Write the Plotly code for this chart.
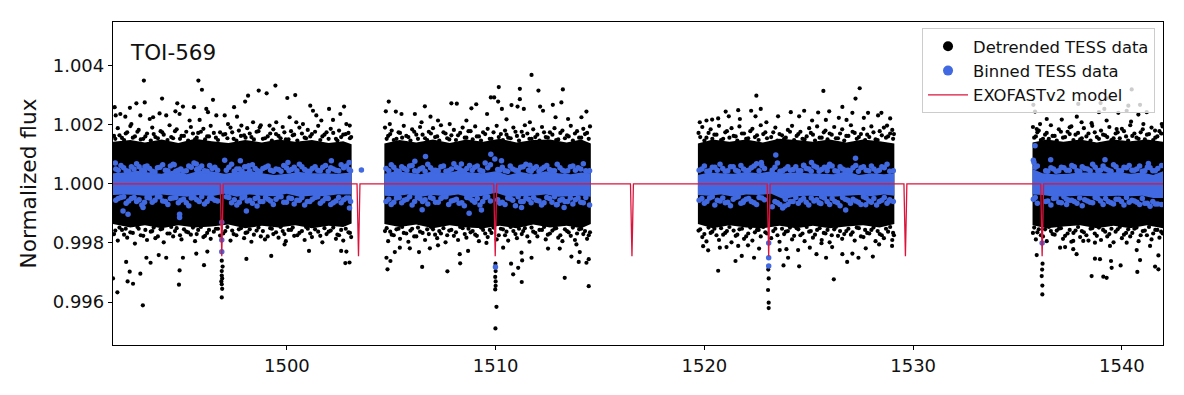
import plotly.graph_objects as go

# All values; flux is stored as parts-per-thousand offset from 1.
# The packed cores cannot be resolved into single points, so they are estimated envelopes,
# and the points around their edges are estimates of the density, not one-to-one readings.
seg1_t = [1491.67,1492.5,1493.2,1494.0,1494.8,1495.6,1496.4,1497.2,1498.0,1498.8,1499.6,1500.4,1501.2,1502.0,1502.7,1503.1]
seg1_hi = [1.42,1.48,1.4,1.5,1.38,1.52,1.44,1.38,1.48,1.4,1.5,1.42,1.48,1.38,1.44,1.34]
seg1_lo = [-1.36,-1.48,-1.4,-1.5,-1.4,-1.48,-1.44,-1.38,-1.5,-1.42,-1.48,-1.4,-1.5,-1.42,-1.46,-1.34]
seg2_t = [1504.67,1505.4,1506.2,1507.0,1507.8,1508.6,1509.4,1510.2,1511.0,1511.8,1512.6,1513.4,1514.1,1514.56]
seg2_hi = [1.36,1.48,1.4,1.5,1.38,1.5,1.42,1.52,1.4,1.48,1.5,1.4,1.5,1.36]
seg2_lo = [-1.36,-1.46,-1.38,-1.5,-1.4,-1.48,-1.5,-1.42,-1.5,-1.38,-1.48,-1.42,-1.5,-1.36]
seg3_t = [1519.69,1520.4,1521.2,1522.0,1522.8,1523.6,1524.4,1525.2,1526.0,1526.8,1527.6,1528.4,1529.1]
seg3_hi = [1.36,1.5,1.42,1.5,1.4,1.52,1.48,1.42,1.5,1.4,1.5,1.44,1.36]
seg3_lo = [-1.36,-1.5,-1.4,-1.48,-1.5,-1.42,-1.5,-1.42,-1.5,-1.44,-1.4,-1.48,-1.36]
seg4_t = [1535.72,1536.4,1537.2,1538.0,1538.8,1539.6,1540.4,1541.2,1541.97]
seg4_hi = [1.4,1.5,1.42,1.5,1.4,1.5,1.44,1.5,1.42]
seg4_lo = [-1.4,-1.5,-1.44,-1.4,-1.5,-1.42,-1.5,-1.4,-1.5]

blue1_t = [1491.67,1492.2,1492.8,1493.4,1494.0,1494.6,1495.2,1495.8,1496.4,1497.0,1497.6,1498.2,1498.8,1499.4,1500.0,1500.6,1501.2,1501.8,1502.4,1503.1]
blue1_hi = [0.36,0.38,0.44,0.38,0.34,0.46,0.32,0.44,0.42,0.34,0.4,0.44,0.36,0.3,0.34,0.4,0.36,0.36,0.34,0.38]
blue1_lo = [-0.38,-0.36,-0.38,-0.42,-0.36,-0.4,-0.44,-0.38,-0.42,-0.34,-0.44,-0.36,-0.4,-0.42,-0.34,-0.44,-0.4,-0.42,-0.36,-0.36]
blue2_t = [1504.67,1505.2,1505.8,1506.4,1507.0,1507.6,1508.2,1508.8,1509.4,1510.0,1510.6,1511.2,1511.8,1512.4,1513.0,1513.6,1514.1,1514.56]
blue2_hi = [0.34,0.42,0.38,0.32,0.42,0.36,0.44,0.38,0.36,0.42,0.3,0.4,0.32,0.42,0.36,0.32,0.38,0.36]
blue2_lo = [-0.4,-0.42,-0.36,-0.44,-0.38,-0.42,-0.36,-0.46,-0.4,-0.3,-0.44,-0.42,-0.4,-0.36,-0.44,-0.42,-0.4,-0.44]
blue3_t = [1519.69,1520.2,1520.8,1521.4,1522.0,1522.6,1523.2,1523.8,1524.4,1525.0,1525.6,1526.2,1526.8,1527.4,1528.0,1528.6,1529.1]
blue3_hi = [0.3,0.38,0.36,0.34,0.4,0.36,0.42,0.36,0.38,0.36,0.34,0.32,0.42,0.3,0.36,0.32,0.36]
blue3_lo = [-0.38,-0.4,-0.36,-0.44,-0.36,-0.38,-0.34,-0.52,-0.42,-0.4,-0.42,-0.44,-0.4,-0.38,-0.42,-0.36,-0.4]
blue4_t = [1535.72,1536.2,1536.8,1537.4,1538.0,1538.6,1539.2,1539.8,1540.4,1541.0,1541.5,1541.97]
blue4_hi = [0.5,0.36,0.32,0.34,0.38,0.38,0.36,0.4,0.34,0.38,0.3,0.42]
blue4_lo = [-0.36,-0.38,-0.44,-0.42,-0.4,-0.42,-0.42,-0.4,-0.42,-0.4,-0.48,-0.48]

black_t = [
 1493.15,1495.76,1495.93,1494.02,1496.46,1492.79,1493.19,1491.75,1492.48,1494.75,1495.02,1495.55,1496.14,1497.47,1498.0,1498.14,1498.65,1499.03,1499.45,1500.02,1500.4,1501.12,1502.02,1502.74,
 1491.80,1492.02,1492.26,1492.55,1492.98,1493.43,1493.59,1493.90,1494.22,1494.66,1494.86,1495.34,1495.82,1496.22,1496.62,1497.02,1497.18,1497.61,1497.82,1498.38,1498.70,1499.17,1499.49,1500.13,1500.45,1500.77,1501.25,1501.41,1501.65,1502.21,1502.56,1502.85,1503.01,
 1493.1,1491.88,1491.67,1492.37,1492.63,1492.47,1492.98,1494.83,1494.86,1492.3,1493.27,1493.47,1493.86,1494.22,1495.02,1495.66,1496.03,1496.19,1498.06,1499.25,1501.06,1502.8,1503.0,1502.85,1502.6,1499.89,
 1496.88,1496.92,1496.88,1496.88,1496.9,1496.86,1496.88,1496.9,1496.88,
 1504.88,1507.88,1508.14,1509.07,1506.61,1510.76,1511.05,1512.13,1512.74,1504.74,1505.22,1506.13,1506.88,1507.24,1508.84,1509.59,1510.3,1511.35,1512.27,1513.47,1514.35,1514.11,1511.64,1512.87,1510.52,1508.6,1507.8,1506.45,1505.49,1504.93,
 1511.72,1510.15,1511.16,1512.05,1513.22,1509.77,1509.93,1510.12,1511.16,1513.15,
 1509.99,1510.04,1514.46,1511.25,1513.31,1504.82,1506.48,1507.69,1508.3,1508.28,1510.84,1511.08,1510.74,1511.27,1511.72,1513.63,1513.98,1514.35,1514.46,1504.96,1504.77,1506.33,1506.85,1507.24,1508.68,1509.56,1510.36,1511.24,1512.51,1513.07,1513.87,1514.03,1505.41,1505.89,1505.17,
 1509.99,1510.0,1509.98,1510.0,1510.0,1509.98,
 1527.44,1525.70,1522.49,1527.24,1526.61,1521.02,1521.62,1522.24,1522.70,1524.14,1524.78,1525.45,1525.98,1527.09,1527.84,1528.48,1519.78,1520.10,1520.37,1520.66,1521.17,1521.7,1522.45,1522.97,1523.53,1524.54,1525.16,1525.82,1526.44,1526.81,1527.64,1528.32,1528.9,1528.75,
 1523.08,1523.08,1523.05,1520.66,1526.2,1521.49,1524.54,1523.79,1526.84,1521.79,1522.38,1525.37,1525.83,1526.61,1527.38,1528.07,1527.09,1527.73,1528.37,1528.99,1519.94,1520.18,1520.74,1521.06,1521.62,1522.09,1522.62,1523.61,1524.01,1523.93,1524.49,1525.05,1525.61,1526.12,1523.08,1523.06,
 1535.76,1537.91,1538.98,1539.27,1540.31,1540.47,1540.87,1535.84,1537.84,1538.9,1539.16,1539.83,1540.23,1540.44,1540.79,1541.19,1541.03,1541.91,1536.08,1536.4,1537.12,1538.07,1538.55,1539.27,1537.5,1539.75,1541.59,1535.92,
 1536.19,1536.19,1536.16,1538.55,1539.11,1539.27,1540.74,1539.48,1539.94,1539.51,1538.71,1538.95,1540.87,1541.59,1541.75,1541.75,1535.92,1537.67,1537.83,1537.04,1537.28,1539.43,1540.23,1540.71,1541.35,1538.15,1538.71,1537.67,1536.18,1536.2,
]
black_f = [
 3.49,3.49,3.18,2.88,2.84,2.72,2.75,2.59,2.57,2.72,2.61,2.59,2.53,2.59,2.78,2.98,3.15,3.06,3.32,2.9,3.0,2.64,2.53,2.61,
 2.31,2.36,2.27,2.02,2.31,2.19,2.25,2.38,2.31,2.45,2.36,2.14,2.16,2.42,2.31,2.31,2.02,2.27,1.97,2.08,1.91,1.97,2.08,2.25,2.08,2.02,2.47,2.31,2.14,2.16,2.36,2.02,1.97,
 -4.11,-3.67,-3.2,-3.3,-3.38,-2.97,-3.04,-3.41,-2.93,-2.64,-2.5,-2.67,-2.41,-2.5,-2.5,-2.36,-2.75,-2.29,-2.54,-2.44,-2.27,-2.68,-2.66,-2.29,-2.27,-2.05,
 -2.6,-2.8,-2.95,-3.1,-3.2,-3.3,-3.4,-3.55,-3.84,
 2.78,2.72,2.71,2.69,2.62,2.66,2.61,2.61,2.67,2.45,2.44,2.36,2.27,2.14,2.55,2.36,2.53,2.53,2.47,2.19,2.44,2.25,2.08,2.25,2.18,2.14,2.02,2.08,2.36,2.02,
 3.68,3.27,3.21,3.15,3.19,2.92,2.92,2.78,2.86,2.75,
 -4.89,-4.16,-3.46,-3.32,-3.18,-2.89,-2.81,-2.96,-2.69,-2.38,-3.06,-2.84,-2.7,-2.59,-2.5,-2.46,-2.64,-2.67,-2.55,-2.61,-2.5,-2.31,-2.18,-2.08,-2.27,-2.0,-2.16,-2.33,-2.19,-2.19,-2.05,-2.31,-2.16,-2.18,-2.31,
 -2.7,-2.95,-3.15,-3.3,-3.45,-3.57,
 3.23,3.14,2.98,2.88,2.6,2.44,2.49,2.47,2.53,2.42,2.47,2.41,2.45,2.4,2.4,2.4,2.08,2.14,2.17,2.21,2.28,2.19,2.28,2.08,2.28,2.28,2.14,2.16,2.23,2.16,2.23,2.31,2.21,1.97,
 -4.2,-4.02,-3.59,-2.94,-3.23,-2.61,-2.79,-2.76,-2.64,-2.44,-2.5,-2.38,-2.5,-2.38,-2.5,-2.46,-2.36,-2.18,-2.05,-2.1,-2.11,-2.25,-2.16,-2.14,-2.1,-2.08,-2.19,-2.24,-2.5,-2.21,-2.24,-2.16,-2.01,-2.14,-3.2,-2.9,
 2.67,2.7,2.73,2.89,2.64,3.19,2.67,2.44,2.27,2.42,2.53,2.4,2.47,2.1,2.34,2.42,2.02,2.02,2.02,2.19,2.17,2.08,2.05,2.14,1.91,1.85,1.8,1.85,
 -3.74,-3.44,-3.12,-3.12,-3.14,-3.18,-2.98,-2.61,-2.76,-2.84,-2.53,-2.55,-2.58,-2.8,-2.89,-2.42,-2.41,-2.21,-2.38,-2.16,-2.14,-2.1,-1.99,-2.24,-2.1,-1.93,-1.99,-1.93,-2.9,-2.7,
]

# Outer speckle: each time has one point above and one below the core.
edge1_t = [1491.72,1491.9,1492.1,1492.35,1492.5,1492.72,1492.9,1493.12,1493.3,1493.55,1493.7,1493.95,1494.1,1494.38,1494.55,1494.72,1494.95,1495.18,1495.4,1495.6,1495.75,1496.0,1496.18,1496.35,1496.6,1496.8,1497.05,1497.3,1497.45,1497.7,1497.95,1498.1,1498.3,1498.55,1498.75,1498.95,1499.2,1499.35,1499.6,1499.8,1499.95,1500.2,1500.35,1500.6,1500.85,1501.0,1501.2,1501.5,1501.7,1501.9,1502.1,1502.35,1502.5,1502.7,1502.95,1503.08]
edge1_up = [1.62,1.88,1.55,1.74,1.95,1.6,1.82,1.52,1.7,1.9,1.58,1.78,1.66,1.98,1.54,1.84,1.62,1.76,1.92,1.5,1.72,1.86,1.6,1.96,1.56,1.74,1.68,1.9,1.52,1.8,1.64,1.88,1.58,1.76,1.98,1.54,1.7,1.84,1.62,1.92,1.5,1.78,1.66,1.9,1.56,1.82,1.68,1.96,1.6,1.74,1.86,1.52,1.8,1.66,1.72,1.58]
edge1_dn = [-1.7,-1.92,-1.56,-1.82,-1.64,-2.02,-1.52,-1.76,-1.9,-1.6,-1.84,-1.54,-1.98,-1.68,-1.78,-1.5,-1.88,-1.62,-1.72,-1.94,-1.56,-1.8,-1.66,-1.86,-1.52,-1.75,-1.6,-1.92,-1.7,-1.54,-1.84,-1.64,-1.96,-1.58,-1.78,-1.88,-1.5,-1.7,-1.82,-1.6,-1.94,-1.56,-1.76,-1.66,-1.9,-1.52,-1.8,-1.62,-1.98,-1.7,-1.58,-1.86,-1.74,-1.92,-1.64,-1.8]
edge2_t = [1504.7,1504.85,1505.02,1505.25,1505.42,1505.6,1505.82,1506.0,1506.2,1506.38,1506.62,1506.8,1507.0,1507.2,1507.38,1507.6,1507.78,1508.0,1508.2,1508.42,1508.6,1508.8,1509.02,1509.2,1509.4,1509.62,1509.8,1510.05,1510.25,1510.45,1510.6,1510.85,1511.02,1511.25,1511.4,1511.62,1511.8,1512.0,1512.22,1512.4,1512.6,1512.82,1513.0,1513.2,1513.42,1513.6,1513.8,1514.0,1514.2,1514.38,1514.52]
edge2_up = [1.9,1.62,1.8,1.52,1.72,1.96,1.58,1.84,1.66,1.92,1.54,1.76,1.88,1.6,1.98,1.7,1.5,1.82,1.64,1.9,1.56,1.78,1.94,1.6,1.74,1.86,1.52,1.96,1.68,1.8,1.56,1.9,1.62,1.76,1.98,1.52,1.84,1.66,1.92,1.58,1.74,1.88,1.5,1.8,1.64,1.96,1.7,1.56,1.86,1.72,1.94]
edge2_dn = [-1.6,-1.94,-1.72,-1.54,-1.86,-1.66,-1.96,-1.52,-1.78,-1.62,-1.9,-1.7,-1.54,-1.84,-1.68,-1.98,-1.58,-1.76,-1.9,-1.5,-1.82,-1.64,-1.72,-1.94,-1.56,-1.8,-1.66,-1.88,-1.52,-1.74,-1.92,-1.6,-1.84,-1.7,-1.5,-1.96,-1.62,-1.78,-1.56,-1.88,-1.68,-1.52,-1.82,-1.94,-1.6,-1.76,-1.9,-1.54,-1.7,-1.86,-1.64]
edge3_t = [1519.72,1519.9,1520.1,1520.3,1520.48,1520.7,1520.9,1521.08,1521.3,1521.5,1521.68,1521.9,1522.1,1522.3,1522.52,1522.7,1522.92,1523.2,1523.4,1523.6,1523.82,1524.0,1524.2,1524.42,1524.6,1524.8,1525.02,1525.2,1525.4,1525.62,1525.8,1526.0,1526.22,1526.4,1526.6,1526.8,1527.02,1527.2,1527.4,1527.62,1527.8,1528.0,1528.2,1528.4,1528.6,1528.8,1529.0,1529.08]
edge3_up = [1.72,1.92,1.56,1.84,1.66,1.96,1.52,1.78,1.88,1.6,1.94,1.7,1.54,1.86,1.64,1.98,1.74,1.58,1.9,1.68,1.52,1.82,1.96,1.62,1.76,1.5,1.88,1.66,1.94,1.56,1.8,1.7,1.92,1.54,1.84,1.62,1.98,1.72,1.58,1.86,1.66,1.94,1.5,1.78,1.9,1.6,1.82,1.68]
edge3_dn = [-1.58,-1.8,-1.95,-1.66,-1.52,-1.9,-1.72,-1.6,-1.98,-1.76,-1.54,-1.86,-1.68,-1.92,-1.56,-1.78,-1.64,-1.84,-1.52,-1.96,-1.7,-1.6,-1.88,-1.5,-1.74,-1.94,-1.62,-1.82,-1.56,-1.9,-1.68,-1.98,-1.54,-1.76,-1.86,-1.6,-1.72,-1.92,-1.5,-1.8,-1.66,-1.56,-1.94,-1.7,-1.84,-1.62,-1.9,-1.74]
edge4_t = [1535.74,1535.88,1536.02,1536.22,1536.4,1536.6,1536.78,1536.98,1537.18,1537.4,1537.58,1537.78,1538.0,1538.18,1538.4,1538.58,1538.8,1539.0,1539.2,1539.4,1539.6,1539.8,1540.0,1540.2,1540.4,1540.6,1540.8,1541.0,1541.2,1541.42,1541.6,1541.8,1541.95]
edge4_up = [1.92,1.6,1.8,1.52,1.72,1.98,1.62,1.84,1.56,1.76,1.94,1.66,1.5,1.88,1.7,1.96,1.58,1.8,1.64,1.92,1.54,1.74,1.86,1.6,1.98,1.7,1.52,1.84,1.66,1.9,1.56,1.78,1.94]
edge4_dn = [-1.66,-1.88,-1.54,-1.78,-1.94,-1.6,-1.72,-1.52,-1.86,-1.68,-1.96,-1.58,-1.8,-1.64,-1.92,-1.5,-1.76,-1.9,-1.62,-1.7,-1.98,-1.54,-1.84,-1.66,-1.78,-1.52,-1.94,-1.6,-1.74,-1.88,-1.56,-1.82,-1.68]

# Inner speckle just outside the solid core, at the times between the outer speckle.
inner_t = [1491.78,1491.98,1492.2,1492.28,1492.62,1492.84,1493.0,1493.22,1493.48,1493.62,1493.82,1494.03,1494.28,1494.46,1494.64,1494.88,1495.07,1495.27,1495.5,1495.68,1495.88,1496.08,1496.27,1496.5,1496.7,1496.95,1497.15,1497.38,1497.58,1497.8,1498.02,1498.22,1498.42,1498.64,1498.85,1499.08,1499.28,1499.48,1499.7,1499.88,1500.08,1500.28,1500.5,1500.72,1500.92,1501.12,1501.35,1501.6,1501.8,1502.0,1502.22,1502.42,1502.6,1502.82,1503.02,
 1504.78,1504.95,1505.12,1505.35,1505.52,1505.72,1505.92,1506.1,1506.28,1506.5,1506.72,1506.9,1507.1,1507.3,1507.5,1507.68,1507.88,1508.1,1508.3,1508.52,1508.7,1508.9,1509.1,1509.3,1509.5,1509.72,1509.9,1510.15,1510.35,1510.52,1510.72,1510.95,1511.12,1511.32,1511.52,1511.72,1511.9,1512.1,1512.32,1512.5,1512.72,1512.9,1513.1,1513.32,1513.5,1513.7,1513.9,1514.1,1514.28,1514.46,
 1519.8,1520.0,1520.2,1520.38,1520.58,1520.8,1521.0,1521.2,1521.4,1521.58,1521.8,1522.0,1522.2,1522.42,1522.6,1522.82,1523.0,1523.3,1523.5,1523.72,1523.9,1524.1,1524.3,1524.5,1524.7,1524.9,1525.1,1525.3,1525.52,1525.72,1525.9,1526.1,1526.3,1526.5,1526.7,1526.9,1527.1,1527.3,1527.5,1527.7,1527.9,1528.1,1528.3,1528.5,1528.7,1528.9,1529.04,
 1535.8,1535.95,1536.12,1536.32,1536.5,1536.68,1536.88,1537.08,1537.28,1537.5,1537.68,1537.9,1538.08,1538.3,1538.5,1538.7,1538.9,1539.1,1539.3,1539.5,1539.7,1539.9,1540.1,1540.3,1540.5,1540.7,1540.9,1541.1,1541.3,1541.5,1541.7,1541.88]
inner_up = [1.52,1.64,1.48,1.7,1.56,1.76,1.5,1.6,1.46,1.68,1.54,1.74,1.48,1.58,1.78,1.52,1.62,1.46,1.7,1.56,1.76,1.5,1.6,1.72,1.48,1.66,1.54,1.74,1.46,1.62,1.56,1.7,1.5,1.78,1.52,1.6,1.46,1.68,1.54,1.74,1.5,1.64,1.46,1.7,1.54,1.6,1.76,1.48,1.66,1.52,1.72,1.46,1.58,1.68,1.54,
 1.52,1.68,1.48,1.74,1.56,1.62,1.46,1.76,1.52,1.66,1.48,1.7,1.58,1.46,1.74,1.54,1.64,1.48,1.72,1.56,1.78,1.5,1.6,1.46,1.68,1.52,1.74,1.58,1.48,1.66,1.54,1.76,1.46,1.62,1.7,1.52,1.58,1.46,1.74,1.56,1.66,1.48,1.72,1.54,1.6,1.46,1.78,1.56,1.68,1.52,
 1.58,1.46,1.72,1.52,1.66,1.48,1.74,1.56,1.62,1.46,1.7,1.52,1.78,1.58,1.48,1.68,1.54,1.74,1.46,1.64,1.56,1.76,1.48,1.68,1.52,1.6,1.72,1.46,1.56,1.74,1.5,1.66,1.54,1.7,1.46,1.62,1.76,1.52,1.68,1.48,1.58,1.74,1.48,1.64,1.56,1.7,1.52,
 1.56,1.74,1.48,1.66,1.52,1.62,1.46,1.76,1.58,1.68,1.48,1.72,1.54,1.6,1.46,1.74,1.52,1.66,1.58,1.48,1.7,1.54,1.78,1.46,1.62,1.56,1.74,1.5,1.68,1.48,1.6,1.7]
inner_dn = [-1.58,-1.48,-1.72,-1.52,-1.66,-1.46,-1.74,-1.56,-1.62,-1.48,-1.78,-1.52,-1.68,-1.46,-1.6,-1.74,-1.54,-1.64,-1.48,-1.7,-1.46,-1.76,-1.56,-1.62,-1.52,-1.68,-1.46,-1.58,-1.74,-1.5,-1.66,-1.54,-1.72,-1.48,-1.6,-1.78,-1.52,-1.64,-1.46,-1.7,-1.56,-1.48,-1.74,-1.6,-1.46,-1.68,-1.54,-1.76,-1.5,-1.62,-1.48,-1.72,-1.56,-1.52,-1.66,
 -1.5,-1.62,-1.74,-1.52,-1.46,-1.68,-1.58,-1.78,-1.48,-1.66,-1.54,-1.46,-1.72,-1.6,-1.5,-1.74,-1.56,-1.64,-1.46,-1.7,-1.52,-1.6,-1.76,-1.48,-1.68,-1.56,-1.48,-1.74,-1.54,-1.62,-1.46,-1.7,-1.52,-1.6,-1.78,-1.48,-1.66,-1.56,-1.46,-1.72,-1.58,-1.5,-1.74,-1.54,-1.64,-1.48,-1.68,-1.52,-1.6,-1.74,
 -1.54,-1.7,-1.48,-1.62,-1.74,-1.5,-1.66,-1.46,-1.58,-1.72,-1.52,-1.78,-1.48,-1.64,-1.56,-1.46,-1.68,-1.6,-1.74,-1.52,-1.62,-1.48,-1.76,-1.54,-1.68,-1.46,-1.6,-1.72,-1.5,-1.66,-1.56,-1.74,-1.46,-1.6,-1.7,-1.52,-1.64,-1.48,-1.78,-1.56,-1.68,-1.48,-1.6,-1.74,-1.52,-1.46,-1.66,
 -1.48,-1.64,-1.74,-1.54,-1.46,-1.7,-1.58,-1.5,-1.76,-1.56,-1.66,-1.46,-1.6,-1.74,-1.52,-1.68,-1.48,-1.56,-1.78,-1.52,-1.62,-1.46,-1.72,-1.54,-1.66,-1.48,-1.74,-1.58,-1.46,-1.68,-1.56,-1.62]

blue_t = [1503.57,1492.39,1492.15,1494.86,1494.86,1493.11,1498.57,1498.06,1503.0,1497.02,1497.77,1498.17,1500.05,1502.13,1502.98,1491.78,1495.66,1493.2,1494.6,1496.88,1496.88,1496.88,
 1509.77,1509.96,1506.64,1506.13,1510.28,1508.73,1509.32,1506.48,1511.24,1509.99,1513.28,1512.91,1511.64,1508.36,
 1523.42,1522.73,1527.24,1525.13,1524.76,1525.93,1526.77,1525.58,1527.73,1523.85,1521.85,1528.85,1523.08,1523.08,1523.08,
 1535.84,1535.79,1536.59,1539.19,1541.27,1537.35,1536.18]
blue_f = [0.47,-1.03,-0.92,-1.03,-1.14,-0.8,-0.75,-0.92,-0.82,0.8,0.78,0.61,0.72,0.78,0.72,0.7,0.67,0.58,0.64,-1.3,-1.9,-2.3,
 1.0,0.84,0.92,0.76,0.78,-1.0,-0.89,-0.88,-0.8,-2.81,-0.8,-0.71,0.63,0.67,
 0.97,0.72,0.86,0.72,0.63,0.58,-0.89,-0.67,-0.71,-0.75,-0.63,-0.58,-2.5,-2.78,-2.0,
 1.29,0.72,0.81,0.81,0.69,-0.52,-2.0]

# Blue fringe, each time with one point above and one below the blue core.
bedge_t = [1491.8,1492.05,1492.3,1492.55,1492.8,1493.05,1493.3,1493.55,1493.8,1494.05,1494.3,1494.55,1494.8,1495.05,1495.3,1495.55,1495.8,1496.05,1496.3,1496.55,1497.1,1497.35,1497.6,1497.85,1498.1,1498.35,1498.6,1498.85,1499.1,1499.35,1499.6,1499.85,1500.1,1500.35,1500.6,1500.85,1501.1,1501.35,1501.6,1501.85,1502.1,1502.35,1502.6,1502.85,1503.05,
 1504.75,1505.0,1505.25,1505.5,1505.75,1506.0,1506.25,1506.5,1506.75,1507.0,1507.25,1507.5,1507.75,1508.0,1508.25,1508.5,1508.75,1509.0,1509.25,1509.5,1509.75,1510.2,1510.45,1510.7,1510.95,1511.2,1511.45,1511.7,1511.95,1512.2,1512.45,1512.7,1512.95,1513.2,1513.45,1513.7,1513.95,1514.2,1514.5,
 1519.75,1520.0,1520.25,1520.5,1520.75,1521.0,1521.25,1521.5,1521.75,1522.0,1522.25,1522.5,1522.75,1523.25,1523.5,1523.75,1524.0,1524.25,1524.5,1524.75,1525.0,1525.25,1525.5,1525.75,1526.0,1526.25,1526.5,1526.75,1527.0,1527.25,1527.5,1527.75,1528.0,1528.25,1528.5,1528.75,1529.05,
 1535.76,1535.95,1536.35,1536.6,1536.85,1537.1,1537.35,1537.6,1537.85,1538.1,1538.35,1538.6,1538.85,1539.1,1539.35,1539.6,1539.85,1540.1,1540.35,1540.6,1540.85,1541.1,1541.35,1541.6,1541.9]
bedge_up = [0.5,0.62,0.44,0.58,0.68,0.46,0.6,0.42,0.54,0.64,0.44,0.66,0.46,0.42,0.6,0.7,0.52,0.44,0.62,0.56,0.46,0.66,0.5,0.42,0.58,0.64,0.44,0.52,0.6,0.42,0.48,0.62,0.44,0.56,0.66,0.48,0.42,0.58,0.44,0.62,0.54,0.46,0.64,0.6,0.44,
 0.52,0.64,0.44,0.58,0.46,0.62,0.42,0.54,0.66,0.46,0.44,0.6,0.44,0.68,0.52,0.42,0.62,0.56,0.46,0.7,0.64,0.46,0.44,0.6,0.46,0.56,0.66,0.42,0.58,0.5,0.62,0.44,0.66,0.46,0.44,0.6,0.54,0.68,0.44,
 0.46,0.6,0.44,0.56,0.66,0.42,0.58,0.46,0.62,0.44,0.54,0.68,0.62,0.46,0.7,0.44,0.58,0.48,0.44,0.62,0.5,0.6,0.42,0.56,0.66,0.44,0.58,0.46,0.44,0.62,0.54,0.46,0.6,0.42,0.58,0.66,0.44,
 0.8,0.6,0.44,0.54,0.42,0.56,0.46,0.62,0.44,0.58,0.5,0.66,0.44,0.6,0.46,0.64,0.44,0.56,0.62,0.46,0.6,0.44,0.54,0.44,0.62]
bedge_dn = [-0.56,-0.46,-0.66,-0.5,-0.6,-0.72,-0.46,-0.62,-0.44,-0.58,-0.7,-0.48,-0.64,-0.52,-0.74,-0.46,-0.6,-0.68,-0.48,-0.56,-0.44,-0.64,-0.72,-0.48,-0.58,-0.66,-0.46,-0.6,-0.52,-0.7,-0.44,-0.62,-0.48,-0.68,-0.56,-0.72,-0.6,-0.46,-0.66,-0.5,-0.7,-0.58,-0.64,-0.48,-0.6,
 -0.6,-0.7,-0.48,-0.64,-0.52,-0.72,-0.46,-0.6,-0.68,-0.5,-0.62,-0.44,-0.7,-0.56,-0.66,-0.74,-0.48,-0.62,-0.72,-0.46,-0.58,-0.66,-0.7,-0.5,-0.74,-0.6,-0.48,-0.64,-0.56,-0.72,-0.46,-0.62,-0.7,-0.52,-0.6,-0.68,-0.48,-0.64,-0.72,
 -0.56,-0.66,-0.48,-0.72,-0.58,-0.64,-0.74,-0.46,-0.66,-0.52,-0.6,-0.7,-0.48,-0.78,-0.64,-0.82,-0.7,-0.6,-0.66,-0.5,-0.72,-0.58,-0.64,-0.48,-0.7,-0.6,-0.74,-0.52,-0.66,-0.58,-0.7,-0.48,-0.62,-0.72,-0.56,-0.66,-0.6,
 -0.52,-0.66,-0.6,-0.72,-0.48,-0.64,-0.7,-0.56,-0.66,-0.74,-0.58,-0.64,-0.5,-0.7,-0.6,-0.68,-0.52,-0.72,-0.62,-0.58,-0.7,-0.66,-0.76,-0.68,-0.7]

# Second blue fringe, at times between the first, filling the shoulder of the blue core.
bfill_t = [1491.92,1492.18,1492.42,1492.68,1492.92,1493.18,1493.42,1493.68,1493.92,1494.18,1494.42,1494.68,1494.92,1495.18,1495.42,1495.68,1495.92,1496.18,1496.42,1496.68,1497.22,1497.48,1497.72,1497.98,1498.22,1498.48,1498.72,1498.98,1499.22,1499.48,1499.72,1499.98,1500.22,1500.48,1500.72,1500.98,1501.22,1501.48,1501.72,1501.98,1502.22,1502.48,1502.72,1502.98,
 1504.88,1505.12,1505.38,1505.62,1505.88,1506.12,1506.38,1506.62,1506.88,1507.12,1507.38,1507.62,1507.88,1508.12,1508.38,1508.62,1508.88,1509.12,1509.38,1509.62,1510.1,1510.32,1510.58,1510.82,1511.08,1511.32,1511.58,1511.82,1512.08,1512.32,1512.58,1512.82,1513.08,1513.32,1513.58,1513.82,1514.08,1514.32,
 1519.88,1520.12,1520.38,1520.62,1520.88,1521.12,1521.38,1521.62,1521.88,1522.12,1522.38,1522.62,1522.88,1523.38,1523.62,1523.88,1524.12,1524.38,1524.62,1524.88,1525.12,1525.38,1525.62,1525.88,1526.12,1526.38,1526.62,1526.88,1527.12,1527.38,1527.62,1527.88,1528.12,1528.38,1528.62,1528.88,
 1535.85,1536.45,1536.72,1536.98,1537.22,1537.48,1537.72,1537.98,1538.22,1538.48,1538.72,1538.98,1539.22,1539.48,1539.72,1539.98,1540.22,1540.48,1540.72,1540.98,1541.22,1541.48,1541.72]
bfill_up = [0.46,0.54,0.42,0.5,0.58,0.44,0.52,0.4,0.56,0.46,0.6,0.42,0.5,0.44,0.56,0.48,0.6,0.42,0.52,0.46,0.56,0.42,0.5,0.58,0.44,0.52,0.4,0.56,0.46,0.5,0.42,0.54,0.48,0.44,0.58,0.42,0.52,0.46,0.56,0.42,0.5,0.44,0.54,0.48,
 0.44,0.56,0.42,0.52,0.6,0.44,0.5,0.42,0.54,0.46,0.58,0.42,0.5,0.56,0.44,0.52,0.46,0.6,0.42,0.54,0.48,0.56,0.42,0.5,0.44,0.58,0.46,0.52,0.42,0.56,0.48,0.44,0.54,0.42,0.58,0.46,0.5,0.44,
 0.5,0.42,0.56,0.46,0.52,0.44,0.58,0.42,0.5,0.46,0.6,0.44,0.52,0.56,0.42,0.5,0.46,0.58,0.44,0.52,0.42,0.56,0.48,0.44,0.6,0.42,0.5,0.46,0.54,0.42,0.58,0.44,0.5,0.46,0.54,0.42,
 0.56,0.42,0.5,0.44,0.54,0.46,0.58,0.42,0.52,0.44,0.56,0.46,0.5,0.42,0.58,0.44,0.54,0.46,0.5,0.42,0.56,0.44,0.52]
bfill_dn = [-0.5,-0.44,-0.58,-0.46,-0.54,-0.62,-0.48,-0.56,-0.44,-0.6,-0.5,-0.46,-0.56,-0.64,-0.48,-0.54,-0.44,-0.6,-0.5,-0.58,-0.46,-0.54,-0.62,-0.44,-0.56,-0.5,-0.6,-0.46,-0.58,-0.52,-0.44,-0.62,-0.5,-0.56,-0.46,-0.6,-0.52,-0.44,-0.58,-0.5,-0.64,-0.46,-0.54,-0.48,
 -0.52,-0.62,-0.46,-0.56,-0.44,-0.6,-0.5,-0.54,-0.46,-0.62,-0.5,-0.44,-0.58,-0.52,-0.64,-0.46,-0.56,-0.5,-0.6,-0.44,-0.54,-0.62,-0.48,-0.56,-0.44,-0.6,-0.52,-0.46,-0.58,-0.64,-0.5,-0.44,-0.56,-0.6,-0.48,-0.54,-0.62,-0.46,
 -0.5,-0.6,-0.44,-0.56,-0.48,-0.62,-0.52,-0.44,-0.58,-0.5,-0.64,-0.46,-0.54,-0.6,-0.7,-0.52,-0.6,-0.46,-0.56,-0.62,-0.48,-0.54,-0.44,-0.6,-0.5,-0.64,-0.46,-0.56,-0.52,-0.62,-0.44,-0.58,-0.5,-0.6,-0.46,-0.54,
 -0.46,-0.58,-0.5,-0.62,-0.44,-0.56,-0.6,-0.48,-0.54,-0.62,-0.46,-0.58,-0.5,-0.64,-0.52,-0.6,-0.46,-0.56,-0.62,-0.5,-0.66,-0.6,-0.68]

model_t = [1491.67,1496.81,1496.84,1496.88,1496.92,1496.95,1503.36,1503.39,1503.43,1503.47,1503.5,1509.91,1509.94,1509.98,1510.02,1510.05,1516.46,1516.49,1516.53,1516.57,1516.6,1523.01,1523.04,1523.08,1523.12,1523.15,1529.56,1529.59,1529.63,1529.67,1529.7,1536.11,1536.14,1536.18,1536.22,1536.25,1541.97]
model_f = [0,0,-1.1,-2.45,-1.1,0,0,-1.1,-2.45,-1.1,0,0,-1.1,-2.45,-1.1,0,0,-1.1,-2.45,-1.1,0,0,-1.1,-2.45,-1.1,0,0,-1.1,-2.45,-1.1,0,0,-1.1,-2.45,-1.1,0,0]

def flux(vals):
    return [1 + v / 1000 for v in vals]

def band(t, hi, lo, color):
    return go.Scatter(x=t + t[::-1], y=flux(hi) + flux(lo)[::-1], fill="toself", fillcolor=color,
                      mode="none", showlegend=False, hoverinfo="skip")

def dots(t, f, color, size):
    return go.Scatter(x=t, y=flux(f), mode="markers", showlegend=False, hoverinfo="skip",
                      marker=dict(color=color, size=size))

def key(name, color):
    return go.Scatter(x=[None], y=[None], mode="markers", name=name, marker=dict(color=color, size=10))

fig = go.Figure()
for t, hi, lo in [(seg1_t, seg1_hi, seg1_lo), (seg2_t, seg2_hi, seg2_lo), (seg3_t, seg3_hi, seg3_lo), (seg4_t, seg4_hi, seg4_lo)]:
    fig.add_trace(band(t, hi, lo, "black"))
fig.add_trace(dots(black_t, black_f, "black", 4.2))
for t, up, dn in [(edge1_t, edge1_up, edge1_dn), (edge2_t, edge2_up, edge2_dn), (edge3_t, edge3_up, edge3_dn), (edge4_t, edge4_up, edge4_dn), (inner_t, inner_up, inner_dn)]:
    fig.add_trace(dots(t, up, "black", 4.2))
    fig.add_trace(dots(t, dn, "black", 4.2))
for t, hi, lo in [(blue1_t, blue1_hi, blue1_lo), (blue2_t, blue2_hi, blue2_lo), (blue3_t, blue3_hi, blue3_lo), (blue4_t, blue4_hi, blue4_lo)]:
    fig.add_trace(band(t, hi, lo, "royalblue"))
fig.add_trace(dots(blue_t, blue_f, "royalblue", 5.5))
fig.add_trace(dots(bedge_t, bedge_up, "royalblue", 5.5))
fig.add_trace(dots(bedge_t, bedge_dn, "royalblue", 5.5))
fig.add_trace(dots(bfill_t, bfill_up, "royalblue", 5.5))
fig.add_trace(dots(bfill_t, bfill_dn, "royalblue", 5.5))
fig.add_trace(key("Detrended TESS data", "black"))
fig.add_trace(key("Binned TESS data", "royalblue"))
fig.add_trace(go.Scatter(x=model_t, y=flux(model_f), mode="lines", name="EXOFASTv2 model",
                         line=dict(color="crimson", width=1.3)))

axis = dict(showline=True, linecolor="black", linewidth=1.3, mirror=True, ticks="outside", ticklen=4,
            tickcolor="black", tickwidth=1.2, showgrid=False, zeroline=False)
fig.update_layout(
    width=1176, height=387, margin=dict(l=105, r=21, t=14, b=50),
    plot_bgcolor="white", paper_bgcolor="white",
    font=dict(family="DejaVu Sans", size=18, color="#111"),
    xaxis=dict(range=[1491.67, 1541.97], tickvals=[1500, 1510, 1520, 1530, 1540], **axis),
    yaxis=dict(range=[0.99455, 1.00547], tickvals=[0.996, 0.998, 1.0, 1.002, 1.004], tickformat=".3f",
               title=dict(text="Normalized flux", font=dict(size=21.7), standoff=10), **axis),
    legend=dict(x=0.9924, y=0.981, xanchor="right", yanchor="top", bgcolor="rgba(255,255,255,0.8)",
                bordercolor="#cccccc", borderwidth=1, font=dict(size=16.4), tracegroupgap=0, itemwidth=40),
    annotations=[dict(text="TOI-569", xref="paper", yref="paper", x=0.0145, y=0.907, xanchor="left", yanchor="middle",
                      showarrow=False, font=dict(size=21.5))],
)
fig.write_html("out.html")
